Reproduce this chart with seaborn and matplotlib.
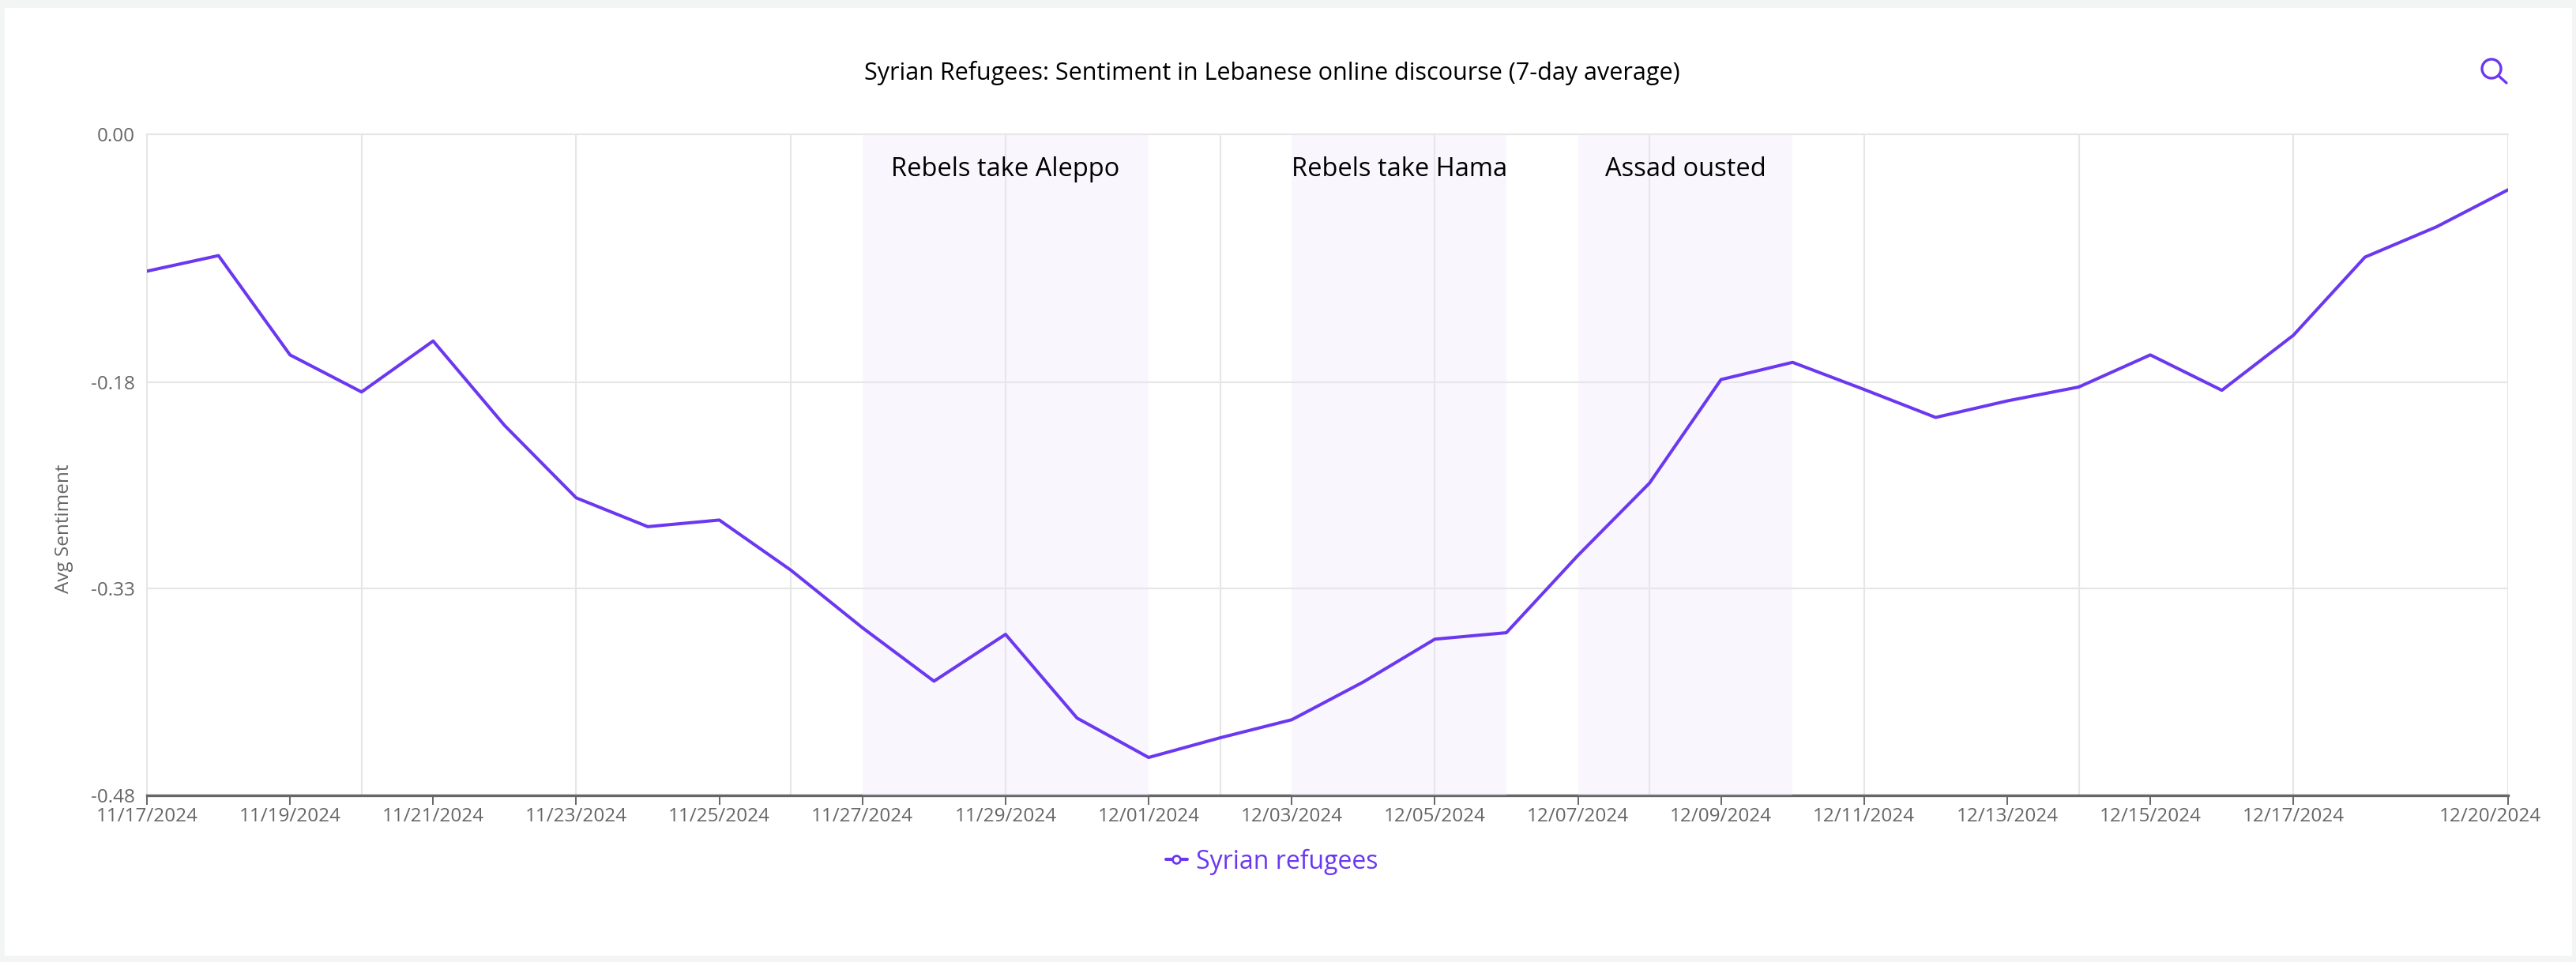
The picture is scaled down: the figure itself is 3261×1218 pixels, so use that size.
import matplotlib
matplotlib.use('Agg')

import matplotlib.dates as mdates
import matplotlib.pyplot as plt
import pandas as pd
import seaborn as sns

from matplotlib.lines import Line2D
from matplotlib.patches import Ellipse, Rectangle
from matplotlib.transforms import ScaledTranslation

dates = pd.date_range('2024-11-17', '2024-12-20', freq='D')
sentiment = [-0.0994, -0.0881, -0.1602, -0.1871, -0.1501, -0.2115, -0.2640, -0.2849,
             -0.2801, -0.3165, -0.3583, -0.3971, -0.3631, -0.4239, -0.4525, -0.4382,
             -0.4251, -0.3977, -0.3666, -0.3619, -0.3058, -0.2533, -0.1781, -0.1656,
             -0.1853, -0.2056, -0.1936, -0.1835, -0.1602, -0.1859, -0.1459, -0.0892,
             -0.0672, -0.0403]

y_ticks = [0.0, -0.18, -0.33, -0.48]
x_tick_days = ['2024-11-17', '2024-11-19', '2024-11-21', '2024-11-23', '2024-11-25',
               '2024-11-27', '2024-11-29', '2024-12-01', '2024-12-03', '2024-12-05',
               '2024-12-07', '2024-12-09', '2024-12-11', '2024-12-13', '2024-12-15',
               '2024-12-17', '2024-12-20']
x_grid_days = ['2024-11-17', '2024-11-20', '2024-11-23', '2024-11-26', '2024-11-29',
               '2024-12-02', '2024-12-05', '2024-12-08', '2024-12-11', '2024-12-14',
               '2024-12-17', '2024-12-20']

event_names = ['Rebels take Aleppo', 'Rebels take Hama', 'Assad ousted']
event_starts = ['2024-11-27', '2024-12-03', '2024-12-07']
event_ends = ['2024-12-01', '2024-12-06', '2024-12-10']

PURPLE = '#6B38F0'
GREY = '#666666'
LIGHT = '#E6E6E6'
W, H = 3262, 1218

sns.set_theme(style='white')
plt.rcParams['font.family'] = ['Open Sans', 'DejaVu Sans']

df = pd.DataFrame({'date': dates, 'sentiment': sentiment})

fig = plt.figure(figsize=(W / 100, H / 100), dpi=100, facecolor='#F3F5F5')
# white card behind the axes
fig.add_artist(Rectangle((6 / W, 1 - 1210 / H), 3250 / W, 1200 / H, transform=fig.transFigure,
                         facecolor='white', edgecolor='none', zorder=-1))

ax = fig.add_axes([186 / W, 1 - 1007 / H, 2989 / W, 837 / H])
ax.patch.set_alpha(0)

sns.lineplot(data=df, x='date', y='sentiment', ax=ax, color=PURPLE, linewidth=2.9,
             zorder=5, legend=False)

ax.set_xlim(dates[0], dates[-1])
ax.set_ylim(-0.48, 0)

ax.set_yticks(y_ticks)
ax.set_yticklabels(['%.2f' % v for v in y_ticks])
ax.set_xticks(pd.to_datetime(x_tick_days))
ax.set_xticks(pd.to_datetime(x_grid_days), minor=True)
ax.xaxis.remove_overlapping_locs = False
ax.xaxis.set_major_formatter(mdates.DateFormatter('%m/%d/%Y'))

ax.grid(False)
ax.grid(True, axis='y', which='major', color=LIGHT, linewidth=1.5, zorder=1)
ax.grid(True, axis='x', which='minor', color=LIGHT, linewidth=1.5, zorder=1)
ax.set_axisbelow(True)

ax.tick_params(axis='x', which='major', length=8.5, width=1.4, color=GREY, bottom=True,
               labelsize=17.5, labelcolor=GREY, pad=2)
ax.tick_params(axis='x', which='minor', length=0)
ax.tick_params(axis='y', which='major', length=0, labelsize=17.5, labelcolor=GREY, pad=11)

# last label is pulled left so it stays inside the card
last = ax.get_xticklabels()[-1]
last.set_transform(last.get_transform() + ScaledTranslation(-23 / 100, 0, fig.dpi_scale_trans))

for side in ['top', 'left']:
    ax.spines[side].set_color(LIGHT)
    ax.spines[side].set_linewidth(1.5)
ax.spines['right'].set_visible(False)
ax.spines['bottom'].set_color(GREY)
ax.spines['bottom'].set_linewidth(2.4)

for name, start, end in zip(event_names, event_starts, event_ends):
    start, end = pd.Timestamp(start), pd.Timestamp(end)
    ax.axvspan(start, end, facecolor='#EEE6FA', edgecolor='none', alpha=0.35, zorder=3)
    ax.text(start + (end - start) / 2, -0.0257, name, ha='center', va='center',
            fontsize=23.5, color='black', zorder=6)

ax.set_xlabel('')
ax.set_ylabel('Avg Sentiment', fontsize=17.5, color=GREY)
ax.yaxis.set_label_coords((93 - 186) / 2989, 0.403)

fig.text(1610 / W, 1 - 93 / H, 'Syrian Refugees: Sentiment in Lebanese online discourse (7-day average)',
         ha='center', va='center', fontsize=22, color='black')

handle = Line2D([], [], color=PURPLE, linewidth=2.9, marker='o', markersize=7,
                markerfacecolor='white', markeredgecolor=PURPLE, markeredgewidth=2)
fig.legend([handle], ['Syrian refugees'], loc='center', bbox_to_anchor=(1610 / W, 1 - 1091 / H),
           frameon=False, fontsize=23, labelcolor=PURPLE, handlelength=0.85, handletextpad=0.35)

# search icon, top right
fig.add_artist(Ellipse((3154 / W, 1 - 87 / H), 24 / W, 24 / H, transform=fig.transFigure,
                       facecolor='none', edgecolor=PURPLE, linewidth=2.4))
fig.add_artist(Line2D([3163 / W, 3173 / W], [1 - 96 / H, 1 - 105 / H], transform=fig.transFigure,
                      color=PURPLE, linewidth=2.4))

fig.savefig('out.png', dpi=100, facecolor=fig.get_facecolor())
